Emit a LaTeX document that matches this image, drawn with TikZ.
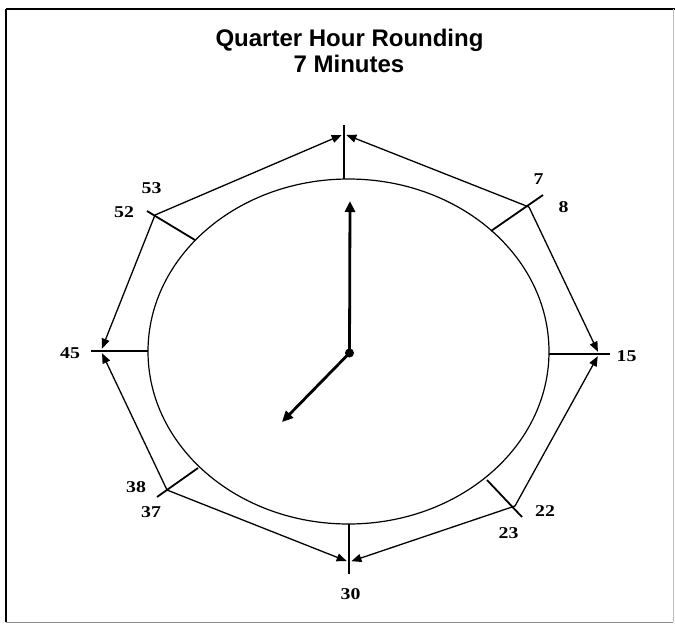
\documentclass[tikz,border=0pt]{standalone}
\usepackage{fontspec}
\usetikzlibrary{arrows.meta,shapes.geometric}
\newfontfamily\titlefont{Liberation Sans}
\newfontfamily\lblfont[FakeStretch=1.2]{Liberation Serif}
\tikzset{
  frame/.style={line width=1.4pt, black},
  rim/.style={line width=1.2pt, black},
  tick/.style={line width=1.8pt, black},
  edge/.style={line width=1.3pt, black, -{Triangle[length=10pt,width=8pt]}, shorten >=2.5pt},
  hand/.style={line width=2.8pt, black, -{Triangle[length=11pt,width=10pt]}},
  lbl/.style={font=\lblfont\bfseries\fontsize{16.5}{16.5}\selectfont, inner sep=0pt},
  ttl/.style={font=\titlefont\bfseries\fontsize{24}{24}\selectfont, inner sep=0pt, anchor=base}
}
\begin{document}
\begin{tikzpicture}[x=1pt,y=-1pt]
\useasboundingbox (0,0) rectangle (675,625);
% frame
\draw[frame] (6,9) -- (675,9);
\draw[frame] (6,9) -- (6,622);
\draw[line width=1pt, black!45] (6,622) -- (673,622);
\draw[line width=0.8pt, black!25] (673,9) -- (673,622);
% title
\node[ttl] (t1) at (349.5,46) {Quarter Hour Rounding};
\node[ttl] (t2) at (349,72) {7 Minutes};
% clock face
\node[draw, rim, ellipse, minimum width=401pt, minimum height=345pt, inner sep=0pt] (face) at (348.5,351.5) {};
% vertices
\coordinate (v0) at (344,134);
\coordinate (v8) at (529,207);
\coordinate (v15) at (599,354);
\coordinate (v23) at (515,506);
\coordinate (v30) at (349,562);
\coordinate (v38) at (167,490);
\coordinate (v45) at (101,351);
\coordinate (v53) at (155,215);
% tick ends
\coordinate (a0) at (344,179); \coordinate (b0) at (344,125);
\coordinate (a8) at (491,231); \coordinate (b8) at (543,195);
\coordinate (a15) at (549,354); \coordinate (b15) at (610,354);
\coordinate (a23) at (487,480); \coordinate (b23) at (522,517);
\coordinate (a30) at (349,524); \coordinate (b30) at (349,574);
\coordinate (a38) at (198,468); \coordinate (b38) at (157,497);
\coordinate (a45) at (148,351); \coordinate (b45) at (91,351);
\coordinate (a53) at (195,240); \coordinate (b53) at (147,211);
\foreach \k in {0,8,15,23,30,38,45,53} \draw[tick] (a\k) -- (b\k);
% octagon arrows
\draw[edge] (v8) -- (v0);
\draw[edge] (v53) -- (v0);
\draw[edge] (v8) -- (v15);
\draw[edge] (v23) -- (v15);
\draw[edge] (v23) -- (v30);
\draw[edge] (v38) -- (v30);
\draw[edge] (v38) -- (v45);
\draw[edge] (v53) -- (v45);
% hands
\coordinate (c) at (349.5,353);
\coordinate (mtip) at (350,201);
\coordinate (htip) at (282,422);
\draw[hand] (c) -- (mtip);
\draw[hand] (c) -- (htip);
\fill (c) circle (4.5pt);
% labels
\node[lbl] (l7) at (538.5,179) {7};
\node[lbl] (l8) at (563.5,207.5) {8};
\node[lbl] (l15) at (626.5,356) {15};
\node[lbl] (l22) at (545,511.5) {22};
\node[lbl] (l23) at (508.5,533.5) {23};
\node[lbl] (l30) at (350.5,594.5) {30};
\node[lbl] (l37) at (151,512) {37};
\node[lbl] (l38) at (136,487.5) {38};
\node[lbl] (l45) at (70,353.5) {45};
\node[lbl] (l52) at (124,212) {52};
\node[lbl] (l53) at (151.5,188) {53};
\end{tikzpicture}
\end{document}
